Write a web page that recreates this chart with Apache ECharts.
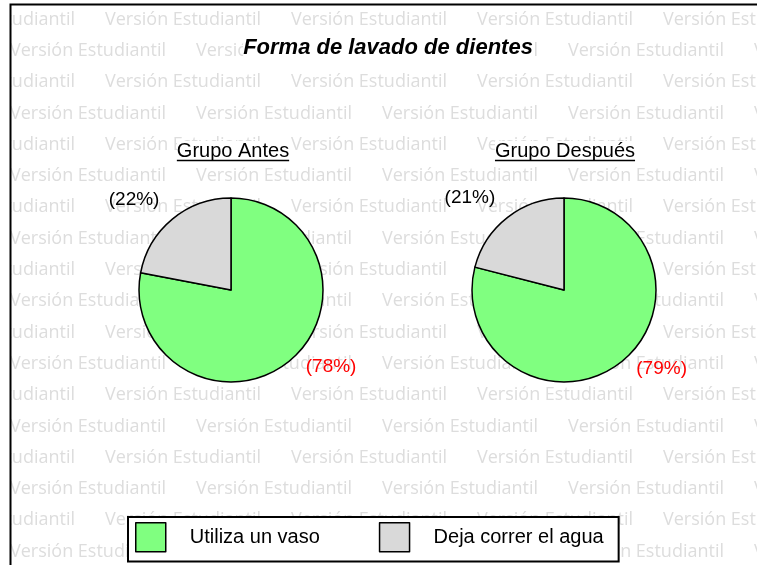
<!DOCTYPE html>
<html>
<head>
<meta charset="utf-8">
<script src="https://cdn.jsdelivr.net/npm/echarts@6/dist/echarts.min.js"></script>
<style>
  html, body { margin: 0; padding: 0; background: #fff; }
  #chart { width: 757px; height: 565px; }
</style>
</head>
<body>
<div id="chart"></div>
<script>
// Chart text and values
const chartTitle = 'Forma de lavado de dientes';
const groupNames = ['Grupo Antes', 'Grupo Después'];
const categories = ['Utiliza un vaso', 'Deja correr el agua'];
const antesValues = [78, 22];
const despuesValues = [79, 21];
const watermarkText = 'Versión Estudiantil';

// Styling
const FONT = '"Liberation Sans", Arial, sans-serif';
const sliceColors = ['#80FF80', '#D9D9D9'];
const labelColors = ['#FF0000', '#000000'];
// outside-label placement for each category slice
const labelPlacement = [
  { length: 8, length2: 6, distance: 5 },
  { length: 25, length2: 0, distance: -3 }
];
const pieCenters = [[231, 290], [564, 290]];
const groupTitleX = [233, 565];
const pieRadius = 92;
const W = 757, H = 565;

function buildData(values) {
  return categories.map((name, i) => ({
    name: name,
    value: values[i],
    itemStyle: { color: sliceColors[i] },
    label: { color: labelColors[i], distanceToLabelLine: labelPlacement[i].distance },
    labelLine: { show: false, length: labelPlacement[i].length, length2: labelPlacement[i].length2 }
  }));
}

function pieSeries(k, values) {
  return {
    type: 'pie',
    name: groupNames[k],
    center: pieCenters[k],
    radius: pieRadius,
    startAngle: 90,
    clockwise: true,
    avoidLabelOverlap: false,
    silent: true,
    animation: false,
    itemStyle: { borderColor: '#000', borderWidth: 1.5 },
    label: {
      show: true,
      position: 'outside',
      formatter: p => '(' + p.value + '%)',
      fontFamily: FONT,
      fontSize: 19
    },
    labelLine: { show: false },
    emphasis: { disabled: true },
    data: buildData(values)
  };
}

function textWidth(txt, font) {
  const ctx = document.createElement('canvas').getContext('2d');
  ctx.font = font;
  return ctx.measureText(txt).width;
}

// Background watermark rows, frame and group-title underlines
const graphics = [];
for (let r = 0; r < 18; r++) {
  const y = 19.5 + r * 31.3;
  const start = r % 2 === 0 ? -81 : 10;
  for (let x = start; x < W; x += 186) {
    graphics.push({
      type: 'text', x: x, y: y, z: 0, silent: true,
      style: { text: watermarkText, font: '18px "Open Sans"', fill: '#dddddd', verticalAlign: 'middle' }
    });
  }
}
graphics.push({ type: 'rect', z: 50, silent: true, shape: { x: 0, y: 0, width: 10, height: H }, style: { fill: '#fff' } });
graphics.push({ type: 'rect', z: 50, silent: true, shape: { x: 0, y: 0, width: W, height: 4 }, style: { fill: '#fff' } });
graphics.push({ type: 'polyline', z: 51, silent: true, shape: { points: [[10.5, H], [10.5, 4.5], [W, 4.5]] }, style: { stroke: '#000', lineWidth: 2, fill: null } });
groupNames.forEach((g, k) => {
  const w = textWidth(g, '20px "Liberation Sans"');
  graphics.push({
    type: 'line', z: 51, silent: true,
    shape: { x1: groupTitleX[k] - w / 2, y1: 160.5, x2: groupTitleX[k] + w / 2, y2: 160.5 },
    style: { stroke: '#000', lineWidth: 1.3 }
  });
});

const chart = echarts.init(document.getElementById('chart'), null, { renderer: 'canvas' });
chart.setOption({
  animation: false,
  backgroundColor: '#fff',
  title: [
    {
      text: chartTitle, left: 388, top: 37, textAlign: 'center', padding: 0, backgroundColor: '#fff',
      textStyle: { fontFamily: FONT, fontSize: 22, fontWeight: 'bold', fontStyle: 'italic', color: '#000' }
    },
    {
      text: groupNames[0], left: groupTitleX[0], top: 141, textAlign: 'center', padding: 0, backgroundColor: '#fff',
      textStyle: { fontFamily: FONT, fontSize: 20, fontWeight: 'normal', color: '#000' }
    },
    {
      text: groupNames[1], left: groupTitleX[1], top: 141, textAlign: 'center', padding: 0, backgroundColor: '#fff',
      textStyle: { fontFamily: FONT, fontSize: 20, fontWeight: 'normal', color: '#000' }
    }
  ],
  legend: {
    data: categories,
    left: 128, top: 517,
    orient: 'horizontal',
    backgroundColor: '#fff',
    borderColor: '#000', borderWidth: 2, borderRadius: 0,
    padding: [5, 15, 9, 7],
    itemGap: 59, itemWidth: 30, itemHeight: 29,
    icon: 'rect',
    selectedMode: false,
    itemStyle: { borderColor: '#000', borderWidth: 1.5 },
    textStyle: { fontFamily: FONT, fontSize: 20, color: '#000', padding: [0, 0, 0, 19] }
  },
  graphic: { elements: graphics },
  series: [pieSeries(0, antesValues), pieSeries(1, despuesValues)]
});
</script>
</body>
</html>
